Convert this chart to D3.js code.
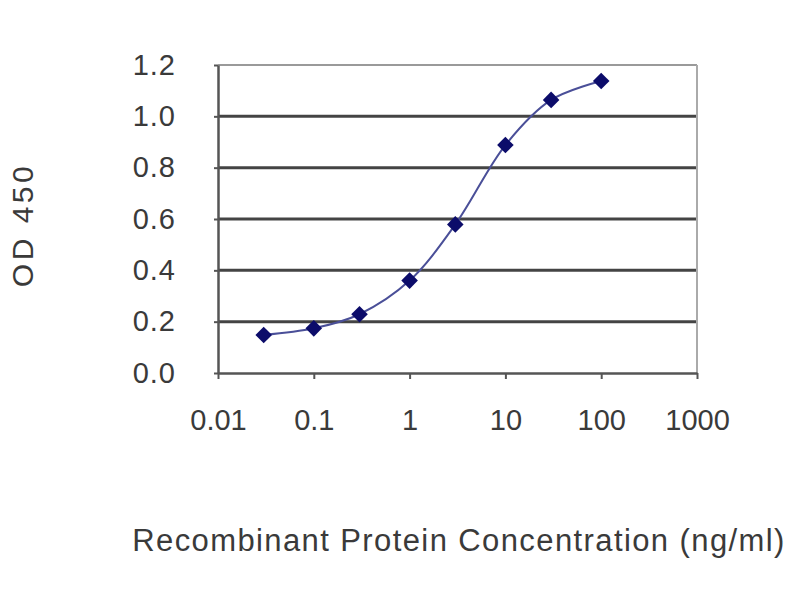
<!DOCTYPE html>
<html><head><meta charset="utf-8">
<script src="https://cdn.jsdelivr.net/npm/d3@7"></script>
<style>body{margin:0;background:#fff}</style>
</head><body>
<svg id="c" width="800" height="600"></svg>
<script>
const concentrations = [0.03, 0.1, 0.3, 1, 3, 10, 30, 100];
const odValues = [0.148, 0.174, 0.229, 0.360, 0.579, 0.888, 1.064, 1.138];
const xTicks = [0.01, 0.1, 1, 10, 100, 1000];
const xTickLabels = ["0.01", "0.1", "1", "10", "100", "1000"];
const yTicks = [0, 0.2, 0.4, 0.6, 0.8, 1.0, 1.2];
const xTitle = "Recombinant Protein Concentration (ng/ml)";
const yTitle = "OD 450";

const svg = d3.select("#c");
const L = 218, R = 697, T = 65, B = 373;
const x = d3.scaleLog().domain([0.01, 1000]).range([L, R]);
const y = d3.scaleLinear().domain([0, 1.2]).range([B, T]);
const font = "'Liberation Sans', Arial, sans-serif";
const txt = "#3a3a3a";

// gridlines
svg.append("g").selectAll("line").data(yTicks.filter(d => d > 0)).join("line")
  .attr("x1", L).attr("x2", R).attr("y1", d => y(d)).attr("y2", d => y(d))
  .attr("stroke", d => d === 1.2 ? "#9a9a9a" : "#444")
  .attr("stroke-width", d => d === 1.2 ? 2 : 3);
// right border
svg.append("line").attr("x1", R).attr("x2", R).attr("y1", T).attr("y2", B)
  .attr("stroke", "#aaa").attr("stroke-width", 2);

// x axis
const xAxis = d3.axisBottom(x).tickValues(xTicks).tickFormat((d, i) => xTickLabels[i])
  .tickSize(6).tickSizeOuter(0).tickPadding(30);
const gx = svg.append("g").attr("transform", `translate(0,${B})`).call(xAxis);
gx.select(".domain").attr("stroke", "#555").attr("stroke-width", 2.5);
gx.selectAll(".tick line").attr("stroke", "#555").attr("stroke-width", 2);
gx.selectAll("text").attr("font-family", font).attr("font-size", 29).attr("fill", txt);

// y axis
const yAxis = d3.axisLeft(y).tickValues(yTicks).tickFormat(d3.format(".1f"))
  .tickSize(4).tickSizeOuter(0).tickPadding(38);
const gy = svg.append("g").attr("transform", `translate(${L},0)`).call(yAxis);
gy.select(".domain").attr("stroke", "#555").attr("stroke-width", 2.5);
gy.selectAll(".tick line").attr("stroke", "#555").attr("stroke-width", 2);
gy.selectAll("text").attr("font-family", font).attr("font-size", 29).attr("fill", txt)
  .attr("letter-spacing", 1);

// curve
const data = concentrations.map((c, i) => ({c, v: odValues[i]}));
const line = d3.line().x(d => x(d.c)).y(d => y(d.v)).curve(d3.curveCatmullRom.alpha(0.5));
svg.append("path").datum(data).attr("d", line).attr("fill", "none")
  .attr("stroke", "#4a4f98").attr("stroke-width", 2);

// markers
svg.append("g").selectAll("path").data(data).join("path")
  .attr("transform", d => `translate(${x(d.c)},${y(d.v)})`)
  .attr("d", d3.symbol().type(d3.symbolDiamond2).size(175))
  .attr("fill", "#0c0c6a");

// titles
svg.append("text").attr("x", 459).attr("y", 551).attr("text-anchor", "middle")
  .attr("font-family", font).attr("font-size", 31).attr("letter-spacing", 1.4)
  .attr("fill", txt).text(xTitle);
svg.append("text").attr("transform", "translate(33,225) rotate(-90)").attr("text-anchor", "middle")
  .attr("font-family", font).attr("font-size", 30).attr("letter-spacing", 3.5)
  .attr("fill", txt).text(yTitle);
</script>
</body></html>
